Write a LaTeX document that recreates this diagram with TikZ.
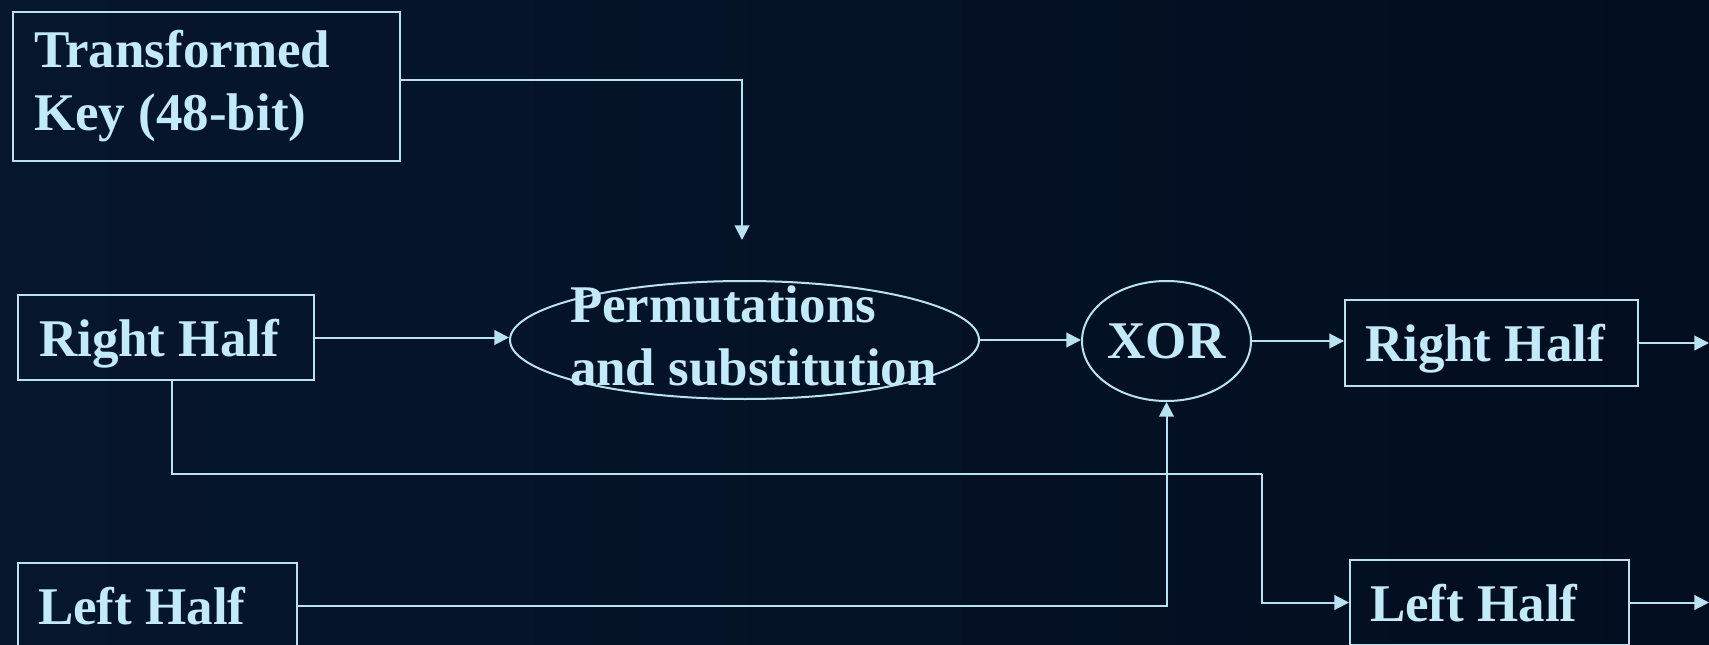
\documentclass[tikz,border=0pt]{standalone}
\usepackage{fontspec}
\setmainfont{Liberation Serif}
\usetikzlibrary{arrows.meta,shapes.geometric}

\definecolor{bgleft}{RGB}{6,22,44}
\definecolor{bgright}{RGB}{2,14,31}
\definecolor{linec}{RGB}{184,226,242}
\definecolor{txtc}{RGB}{194,234,248}

\tikzset{every picture/.style={line width=1.5pt}}
\tikzset{
  blk/.style={draw=linec, rectangle, anchor=north west, align=flush left, text=txtc,
    font=\fontsize{39.75pt}{47.25pt}\selectfont\bfseries},
  half/.style={blk, inner xsep=15pt, text depth=0pt},
  oval/.style={draw=linec, ellipse, inner sep=0pt, text=txtc, text depth=0pt,
    font=\fontsize{39.75pt}{47.25pt}\selectfont\bfseries},
  flow/.style={draw=linec, -{Triangle[length=11pt,width=11pt]}},
  wire/.style={draw=linec}
}

\begin{document}
\begin{tikzpicture}[x=0.75pt,y=0.75pt,yscale=-1,xscale=1]
  % page and background
  \useasboundingbox (0,0) rectangle (1709,645);
  \shade[left color=bgleft, right color=bgright] (0,0) rectangle (1709,645);

  % Key box
  \node[blk, inner xsep=15.75pt, inner ysep=0pt, text width=258.75pt, minimum height=111.75pt] (key) at (12,11) {Transformed\\Key (48-bit)};
  % Halves going in
  \node[half, inner xsep=15.75pt, text width=190.5pt, minimum height=63.75pt] (rhalfA) at (17,294) {Right Half};
  \node[half, text width=179.25pt, minimum height=64.5pt] (lhalfA) at (17,562) {Left Half};
  % Round function
  \node[oval, minimum width=351.75pt, minimum height=88.5pt] (perm) at (744.5,340) {};
  \node[anchor=west, inner sep=0pt, align=left, text=txtc,
    font=\fontsize{39.75pt}{47.25pt}\selectfont\bfseries] (permtxt) at (569,336) {Permutations\\and substitution};
  \node[oval, minimum width=126.75pt, minimum height=90pt] (xor) at (1166.5,341) {XOR};
  % Halves going out
  \node[half, text width=189.75pt, minimum height=64.5pt] (rhalfB) at (1344,299) {Right Half};
  \node[half, text width=179.25pt, minimum height=63.75pt] (lhalfB) at (1349,559) {Left Half};

  % free ends
  \coordinate (keyin) at (742,240);
  \coordinate (bend) at (1262,474);
  \coordinate (outR) at (1709,342);
  \coordinate (outL) at (1709,604);

  % Connectors
  \draw[flow] (key.east |- 0,80) -| (keyin);
  \draw[flow] (rhalfA.east) -- (rhalfA.east -| perm.west);
  \draw[flow] (perm.east) -- (perm.east -| xor.west);
  \draw[flow] (xor.east) -- (xor.east -| rhalfB.west);
  \draw[flow] (rhalfB.east) -- (rhalfB.east -| outR);
  \draw[wire] ([xshift=4.5pt]rhalfA.south) |- (bend);
  \draw[flow] (bend) |- (lhalfB.west);
  \draw[flow] (lhalfA.east) -| (xor.south);
  \draw[flow] (lhalfB.east) -- (lhalfB.east -| outL);
\end{tikzpicture}
\end{document}
